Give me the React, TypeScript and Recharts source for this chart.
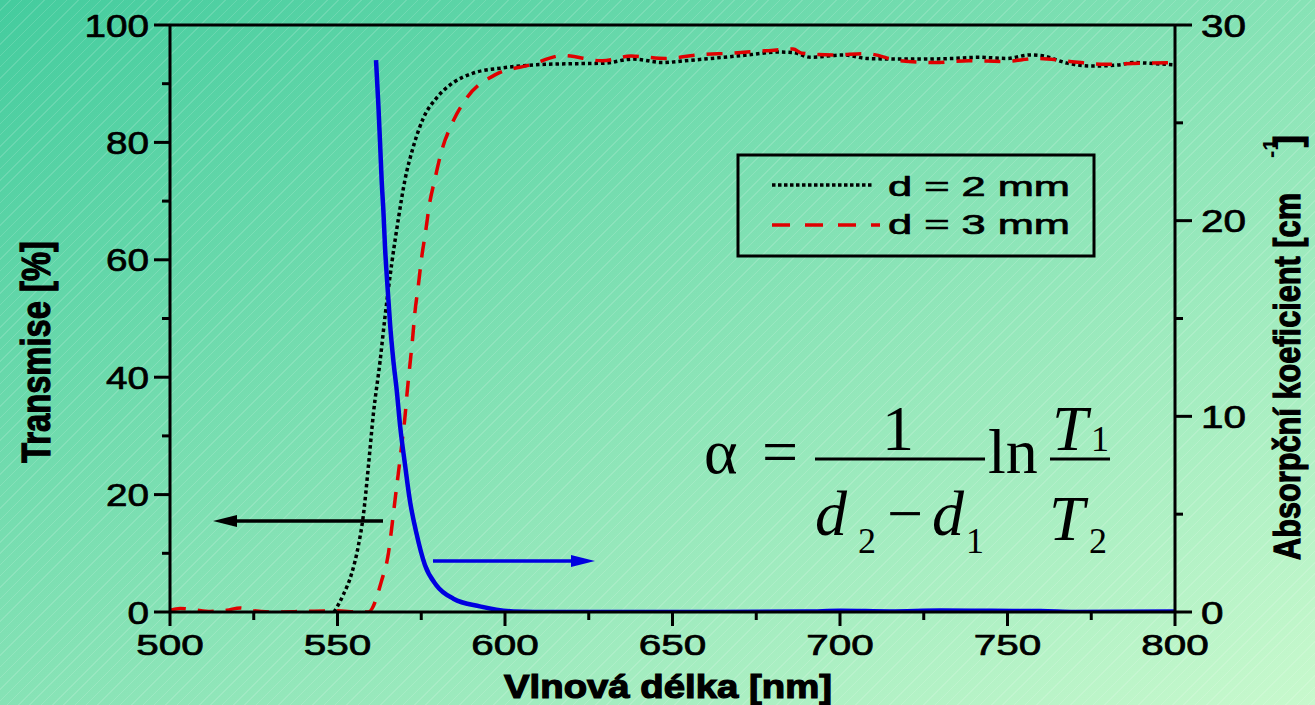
import React from 'react';
import { LineChart, Line, XAxis, YAxis, ReferenceLine } from 'recharts';

// ---- data ----
const wl2mm = [549, 551.7, 554.2, 556.2, 557.7, 559.2, 560.7, 562.7, 564.2, 566.2, 568.2, 570.1, 572.6, 575.6, 579.6, 584.6, 590.5, 599.5, 612, 620, 629.6, 638.2, 647.2, 653.7, 661.5, 672.5, 681.5, 686, 691.3, 701.2, 708, 716.7, 725.7, 733.4, 741.2, 749.8, 756.7, 760.9, 767.8, 775.5, 783.3, 787.5, 794.3, 800];
const trans2mm = [0, 2.9, 6.5, 11.2, 16.4, 24.7, 33.7, 42.7, 50.4, 59.4, 67.1, 73.5, 79.2, 84.1, 87.6, 90.2, 91.8, 92.7, 93.3, 93.4, 93.5, 94.2, 93.6, 93.9, 94.3, 94.9, 95.4, 95.3, 94.5, 94.9, 94.3, 94.2, 94.2, 94.3, 94.5, 94.3, 94.9, 94.7, 93.5, 93.0, 93.2, 93.6, 93.4, 93.2];

const wl3mm = [500, 503, 507, 512, 517, 521, 524, 530, 540, 550, 556, 559.2, 563.2, 565.2, 566.2, 567.2, 568.2, 569.2, 570.1, 570.8, 571.6, 572.4, 573.1, 574.1, 575.1, 576.3, 577.4, 579.1, 581.1, 584.1, 588.6, 597, 607.5, 617.4, 629, 637.6, 647.8, 657.6, 667.5, 677.6, 686, 688.6, 697.9, 708, 717.9, 728.4, 738.5, 749, 758.8, 768.7, 778.8, 789.3, 800];
const trans3mm = [0.3, 0.6, 0.4, 0.1, 0.3, 0.7, 0.3, 0.0, 0.1, 0.2, 0.0, 0, 5.4, 10, 14.4, 19.2, 23.8, 28.6, 33, 37.5, 42, 46.5, 51, 55.5, 60.3, 64.8, 69.3, 73.8, 78.6, 83.1, 87.6, 91.5, 93.2, 94.8, 93.9, 94.7, 94.3, 94.9, 95.2, 95.6, 95.9, 95.2, 94.9, 95.1, 93.9, 93.6, 93.9, 93.8, 94.3, 93.8, 93.3, 93.5, 93.6];

const wlAlpha = [561.5, 562.2, 562.7, 563.2, 563.7, 564.2, 564.9, 565.7, 566.7, 567.7, 568.7, 570.1, 571.6, 573.6, 576.1, 579.6, 584.6, 592.5, 602.5, 615, 650, 690, 700, 715, 730, 745, 760, 770, 800];
const alphaValues = [28.2, 25.9, 24.0, 22.0, 20.5, 18.6, 16.7, 14.7, 12.8, 11.3, 9.5, 7.6, 5.7, 4.0, 2.4, 1.35, 0.68, 0.29, 0.03, 0, 0, 0.02, 0.06, 0.03, 0.08, 0.06, 0.05, 0, 0.02];

const xTicks = [500, 525, 550, 575, 600, 625, 650, 675, 700, 725, 750, 775, 800];
const leftTicks = [0, 10, 20, 30, 40, 50, 60, 70, 80, 90, 100];
const rightTicks = [0, 5, 10, 15, 20, 25, 30];

const legendLabels = ['d = 2 mm', 'd = 3 mm'];
const xTitle = 'Vlnová délka [nm]';
const leftTitle = 'Transmise [%]';
const rightTitle = 'Absorpční koeficient [cm';

const series2 = wl2mm.map((x, i) => ({ x, y: trans2mm[i] }));
const series3 = wl3mm.map((x, i) => ({ x, y: trans3mm[i] }));
const seriesA = wlAlpha.map((x, i) => ({ x, y: alphaValues[i] }));

const SANS = "'Liberation Sans', Arial, Helvetica, sans-serif";
const SERIF = "'Liberation Serif', 'Times New Roman', serif";

const XTick = (props: any) => {
  const { x, y, payload } = props;
  const v = payload.value;
  const major = v % 50 === 0;
  const s = String(v);
  return (
    <g>
      <line x1={x} y1={y} x2={x} y2={y + (major ? 14 : 8)} stroke="#000" strokeWidth={3} />
      {major && (
        <text x={x} y={y + 43} textAnchor="middle" fontSize={29} fontFamily={SANS} fill="#000"
          stroke="#000" strokeWidth={0.7}
          textLength={s.length * 22.5} lengthAdjust="spacingAndGlyphs">{s}</text>
      )}
    </g>
  );
};

const LeftTick = (props: any) => {
  const { x, y, payload } = props;
  const v = payload.value;
  const major = v % 20 === 0;
  const s = String(v);
  return (
    <g>
      <line x1={x - (major ? 16 : 8)} y1={y} x2={x} y2={y} stroke="#000" strokeWidth={3} />
      {major && (
        <text x={x - 21} y={y + 11.5} textAnchor="end" fontSize={32} fontFamily={SANS} fill="#000"
          stroke="#000" strokeWidth={0.7}
          textLength={s.length * 21.5} lengthAdjust="spacingAndGlyphs">{s}</text>
      )}
    </g>
  );
};

const RightTick = (props: any) => {
  const { x, y, payload } = props;
  const v = payload.value;
  const major = v % 10 === 0;
  const s = String(v);
  return (
    <g>
      <line x1={x} y1={y} x2={x + (major ? 17 : 8)} y2={y} stroke="#000" strokeWidth={3} />
      {major && (
        <text x={x + 26} y={y + 11.5} textAnchor="start" fontSize={32} fontFamily={SANS} fill="#000"
          stroke="#000" strokeWidth={0.7}
          textLength={s.length * 22.5} lengthAdjust="spacingAndGlyphs">{s}</text>
      )}
    </g>
  );
};

const Overlay = () => (
  <svg width={1315} height={705} style={{ position: 'absolute', left: 0, top: 0, pointerEvents: 'none' }}>
    {/* axis titles */}
    <text x={668} y={698} textAnchor="middle" fontSize={33} fontWeight="bold" fontFamily={SANS} fill="#000"
      stroke="#000" strokeWidth={1.2}
      textLength={328} lengthAdjust="spacingAndGlyphs">{xTitle}</text>
    <text transform="translate(50,352) rotate(-90)" textAnchor="middle" fontSize={40} fontWeight="bold" fontFamily={SANS} fill="#000"
      stroke="#000" strokeWidth={1.2}
      textLength={222} lengthAdjust="spacingAndGlyphs">{leftTitle}</text>
    <text transform="translate(1300,560) rotate(-90)" textAnchor="start" fontSize={36} fontWeight="bold" fontFamily={SANS} fill="#000"
      stroke="#000" strokeWidth={1.2}
      textLength={367} lengthAdjust="spacingAndGlyphs">{rightTitle}</text>
    <text transform="translate(1278,158) rotate(-90)" textAnchor="start" fontSize={22} fontWeight="bold" fontFamily={SANS} fill="#000">-1</text>
    <text transform="translate(1300,147) rotate(-90)" textAnchor="start" fontSize={36} fontWeight="bold" fontFamily={SANS} fill="#000"
      stroke="#000" strokeWidth={1.2}>]</text>

    {/* legend */}
    <rect x={738} y={155} width={356} height={101} fill="none" stroke="#000" strokeWidth={3} />
    <line x1={772} y1={185} x2={873} y2={185} stroke="#000" strokeWidth={3.5} strokeDasharray="3.5 2.5" />
    <line x1={772} y1={225} x2={880} y2={225} stroke="#e00000" strokeWidth={3.5} strokeDasharray="18 15" />
    <text x={888} y={196} fontSize={28} fontFamily={SANS} fill="#000" stroke="#000" strokeWidth={0.7}
      textLength={182} lengthAdjust="spacingAndGlyphs">{legendLabels[0]}</text>
    <text x={888} y={234} fontSize={28} fontFamily={SANS} fill="#000" stroke="#000" strokeWidth={0.7}
      textLength={182} lengthAdjust="spacingAndGlyphs">{legendLabels[1]}</text>

    {/* arrows */}
    <line x1={383} y1={521} x2={235} y2={521} stroke="#000" strokeWidth={3.5} />
    <polygon points="213,521 237,515 237,527" fill="#000" />
    <line x1={433} y1={561} x2={575} y2={561} stroke="#0000e0" strokeWidth={3.5} />
    <polygon points="595,561 571,555 571,567" fill="#0000e0" />

    {/* formula */}
    <g fontFamily={SERIF} fill="#000">
      <text x={704} y={473} fontSize={64}>α</text>
      <text x={762} y={473} fontSize={64}>=</text>
      <line x1={815} y1={459} x2={985} y2={459} stroke="#000" strokeWidth={3} />
      <text x={898} y={450} fontSize={64} textAnchor="middle">1</text>
      <text x={815} y={535} fontSize={64} fontStyle="italic">d</text>
      <text x={858} y={553} fontSize={36}>2</text>
      <text x={887} y={535} fontSize={64}>−</text>
      <text x={932} y={535} fontSize={64} fontStyle="italic">d</text>
      <text x={966} y={553} fontSize={36}>1</text>
      <text x={988} y={473} fontSize={64}>ln</text>
      <line x1={1050} y1={459} x2={1110} y2={459} stroke="#000" strokeWidth={3} />
      <text x={1052} y={450} fontSize={64} fontStyle="italic">T</text>
      <text x={1091} y={451} fontSize={36}>1</text>
      <text x={1049} y={540} fontSize={64} fontStyle="italic">T</text>
      <text x={1089} y={553} fontSize={36}>2</text>
    </g>
  </svg>
);

export default function App() {
  return (
    <div style={{
      position: 'fixed', left: 0, top: 0, width: 1315, height: 705, overflow: 'hidden',
      background: 'repeating-linear-gradient(135deg, rgba(255,255,255,0) 0px, rgba(255,255,255,0) 7px, rgba(255,255,255,0.14) 7px, rgba(255,255,255,0.14) 8px), linear-gradient(to bottom right, #44cc9e, #c8f9cd)',
    }}>
      <LineChart width={1315} height={705} margin={{ top: 25, right: 0, bottom: 0, left: 0 }}>
        <XAxis dataKey="x" type="number" domain={[500, 800]} ticks={xTicks} interval={0}
          height={93} tickSize={0} tickMargin={0} tickLine={false} tick={XTick}
          axisLine={{ stroke: '#000', strokeWidth: 3 }} allowDataOverflow />
        <YAxis yAxisId="left" orientation="left" type="number" domain={[0, 100]} ticks={leftTicks} interval={0}
          width={170} tickSize={0} tickMargin={0} tickLine={false} tick={LeftTick}
          axisLine={{ stroke: '#000', strokeWidth: 3 }} allowDataOverflow />
        <YAxis yAxisId="right" orientation="right" type="number" domain={[0, 30]} ticks={rightTicks} interval={0}
          width={140} tickSize={0} tickMargin={0} tickLine={false} tick={RightTick}
          axisLine={{ stroke: '#000', strokeWidth: 3 }} allowDataOverflow />
        <ReferenceLine yAxisId="left" y={100} stroke="#000" strokeWidth={3} />
        <Line yAxisId="left" data={series2} dataKey="y" type="monotone" stroke="#000" strokeWidth={3.5}
          strokeDasharray="3.5 3" dot={false} isAnimationActive={false} />
        <Line yAxisId="left" data={series3} dataKey="y" type="monotone" stroke="#e00000" strokeWidth={3.5}
          strokeDasharray="16 12" dot={false} isAnimationActive={false} />
        <Line yAxisId="right" data={seriesA} dataKey="y" type="monotone" stroke="#0000e0" strokeWidth={4.5}
          dot={false} isAnimationActive={false} />
      </LineChart>
      <Overlay />
    </div>
  );
}
